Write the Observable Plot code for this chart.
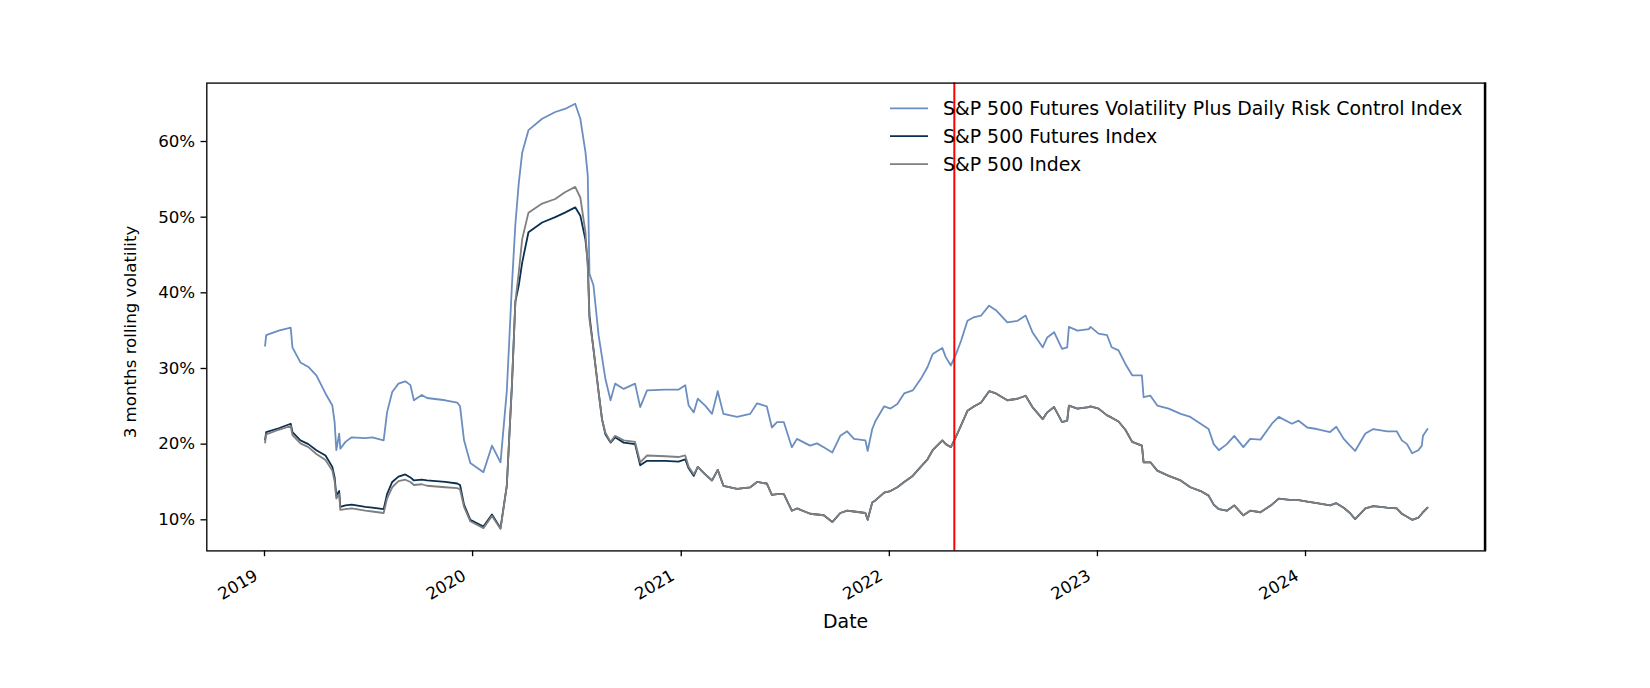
<!DOCTYPE html>
<html>
<head>
<meta charset="utf-8">
<script src="https://cdn.jsdelivr.net/npm/d3@7"></script>
<script src="https://cdn.jsdelivr.net/npm/@observablehq/plot@0.6"></script>
<style>
  html, body { margin: 0; padding: 0; background: #fff; }
  #chart svg { display: block; }
</style>
</head>
<body>
<div id="chart"></div>
<script>
// ---------------- data ----------------
const dates = [
"2019-01-02","2019-01-04","2019-01-26","2019-02-16","2019-02-19","2019-03-05","2019-03-19","2019-04-02","2019-04-18","2019-04-30",
"2019-05-04","2019-05-07","2019-05-12","2019-05-14","2019-05-23","2019-06-03","2019-06-27","2019-07-09","2019-07-29","2019-08-04",
"2019-08-13","2019-08-24","2019-09-05","2019-09-14","2019-09-20","2019-10-04","2019-10-13","2019-11-14","2019-12-05","2019-12-10",
"2019-12-17","2019-12-28","2020-01-20","2020-02-04","2020-02-19","2020-03-01","2020-03-10","2020-03-16","2020-03-22","2020-03-28",
"2020-04-08","2020-05-02","2020-05-25","2020-06-11","2020-06-29","2020-07-08","2020-07-17","2020-07-21","2020-07-24","2020-07-31",
"2020-08-09","2020-08-15","2020-08-21","2020-08-30","2020-09-07","2020-09-22","2020-10-12","2020-10-21","2020-11-02","2020-12-04",
"2020-12-27","2021-01-08","2021-01-14","2021-01-23","2021-01-30","2021-02-12","2021-02-24","2021-03-06","2021-03-16","2021-04-09",
"2021-05-02","2021-05-14","2021-05-31","2021-06-09","2021-06-18","2021-06-30","2021-07-14","2021-07-23","2021-08-15","2021-08-27",
"2021-09-08","2021-09-23","2021-10-07","2021-10-19","2021-10-31","2021-11-20","2021-11-24","2021-12-02","2021-12-08","2021-12-23",
"2022-01-03","2022-01-15","2022-01-27","2022-02-11","2022-02-25","2022-03-09","2022-03-18","2022-04-04","2022-04-10","2022-04-19",
"2022-04-28","2022-05-07","2022-05-18","2022-05-30","2022-06-11","2022-06-25","2022-07-07","2022-07-27","2022-08-14","2022-08-28",
"2022-09-09","2022-09-27","2022-10-05","2022-10-17","2022-10-31","2022-11-09","2022-11-12","2022-11-27","2022-12-17","2022-12-20",
"2023-01-03","2023-01-18","2023-01-26","2023-02-07","2023-02-19","2023-03-03","2023-03-20","2023-03-23","2023-04-04","2023-04-16",
"2023-05-06","2023-05-27","2023-06-13","2023-07-01","2023-07-15","2023-07-24","2023-08-02","2023-08-16","2023-08-29","2023-09-14",
"2023-09-26","2023-10-14","2023-11-03","2023-11-15","2023-12-08","2023-12-20","2024-01-04","2024-01-21","2024-02-13","2024-02-24",
"2024-03-08","2024-03-19","2024-03-28","2024-04-15","2024-04-29","2024-05-23","2024-06-09","2024-06-18","2024-06-27","2024-07-06",
"2024-07-17","2024-07-23","2024-07-25","2024-08-02"
];

// S&P 500 Futures Volatility Plus Daily Risk Control Index (%)
const riskControl = [
33.0,34.4,35.0,35.4,32.8,30.8,30.2,29.1,26.7,25.1,
22.9,19.2,21.4,19.4,20.3,20.9,20.8,20.9,20.5,24.2,
26.9,28.0,28.3,27.8,25.8,26.5,26.1,25.8,25.5,25.0,
20.5,17.5,16.3,19.8,17.6,27.0,41.0,49.0,54.5,58.5,
61.5,63.0,63.9,64.3,65.0,63.0,58.6,55.5,42.5,41.0,
34.4,31.5,28.6,25.8,28.0,27.3,28.0,24.9,27.1,27.2,
27.2,27.8,25.1,24.2,26.0,25.1,24.0,27.0,24.0,23.6,
24.0,25.4,25.0,22.2,22.9,22.9,19.6,20.7,19.8,20.1,
19.6,18.9,21.1,21.7,20.7,20.5,19.1,22.0,23.1,25.0,
24.7,25.3,26.7,27.1,28.6,30.2,31.9,32.7,31.5,30.4,
31.9,33.7,36.3,36.8,37.0,38.3,37.7,36.1,36.3,37.0,
34.8,32.8,34.1,34.8,32.6,32.8,35.5,35.0,35.2,35.5,
34.6,34.4,32.8,32.4,30.6,29.1,29.1,26.2,26.4,25.1,
24.7,24.0,23.6,22.7,22.0,20.0,19.2,20.0,21.1,19.6,
20.7,20.6,22.7,23.6,22.7,23.1,22.2,22.0,21.6,22.3,
20.7,19.8,19.1,21.4,22.0,21.7,21.7,20.5,20.0,18.8,
19.2,19.8,21.1,22.0
];

// S&P 500 Futures Index (%)
const futures = [
20.6,21.6,22.1,22.7,21.6,20.5,20.0,19.2,18.5,17.0,
15.6,13.2,13.8,11.7,11.9,12.0,11.7,11.6,11.4,13.4,
15.0,15.7,16.0,15.6,15.2,15.3,15.2,15.0,14.8,14.6,
12.0,10.0,9.1,10.7,8.9,14.5,27.8,38.8,41.0,44.0,
48.0,49.3,50.0,50.6,51.3,50.2,47.0,44.0,37.0,32.6,
26.9,23.3,21.3,20.2,20.9,20.2,20.0,17.2,17.8,17.8,
17.7,18.0,16.8,15.8,17.0,16.0,15.2,16.6,14.5,14.1,
14.3,15.0,14.8,13.3,13.4,13.4,11.2,11.5,10.8,10.7,
10.6,9.7,10.9,11.2,11.1,10.9,10.0,12.3,12.6,13.6,
13.8,14.3,15.0,15.8,17.0,18.0,19.2,20.5,20.0,19.6,
21.0,22.5,24.4,25.0,25.5,27.0,26.7,25.8,26.0,26.4,
24.9,23.3,24.2,24.9,22.9,23.1,25.1,24.7,24.9,25.0,
24.7,23.8,23.5,23.0,21.9,20.3,19.8,17.6,17.6,16.5,
15.8,15.2,14.3,13.8,13.2,12.0,11.4,11.2,11.9,10.6,
11.2,11.0,12.0,12.8,12.6,12.6,12.4,12.2,11.9,12.2,
11.6,10.9,10.1,11.5,11.8,11.6,11.5,10.8,10.4,10.0,
10.3,10.8,11.0,11.6
];

// S&P 500 Index (%)
const spx = [
20.2,21.3,21.9,22.4,21.2,20.1,19.6,18.7,17.9,16.5,
15.1,12.8,13.4,11.3,11.4,11.5,11.2,11.1,10.9,12.8,
14.3,15.1,15.3,15.0,14.6,14.7,14.5,14.3,14.2,14.0,
11.7,9.8,8.9,10.5,8.8,14.5,27.8,38.8,42.7,47.1,
50.6,51.8,52.4,53.3,54.0,52.6,48.0,43.5,36.5,32.6,
26.9,23.3,21.5,20.3,21.1,20.5,20.3,17.6,18.5,18.4,
18.3,18.5,17.0,16.0,17.0,16.0,15.2,16.6,14.5,14.1,
14.3,15.0,14.8,13.3,13.4,13.4,11.2,11.5,10.8,10.7,
10.6,9.7,10.9,11.2,11.1,10.9,10.0,12.3,12.6,13.6,
13.8,14.3,15.0,15.8,17.0,18.0,19.2,20.5,20.0,19.6,
21.0,22.5,24.4,25.0,25.5,27.0,26.7,25.8,26.0,26.4,
24.9,23.3,24.2,24.9,22.9,23.1,25.1,24.7,24.9,25.0,
24.7,23.8,23.5,23.0,21.9,20.3,19.8,17.6,17.6,16.5,
15.8,15.2,14.3,13.8,13.2,12.0,11.4,11.2,11.9,10.6,
11.2,11.0,12.0,12.8,12.6,12.6,12.4,12.2,11.9,12.2,
11.6,10.9,10.1,11.5,11.8,11.6,11.5,10.8,10.4,10.0,
10.3,10.8,11.0,11.6
];

const seriesNames = [
  "S&P 500 Futures Volatility Plus Daily Risk Control Index",
  "S&P 500 Futures Index",
  "S&P 500 Index"
];
const seriesColors = ["#6b8ec0", "#0a2f50", "#7f7f7f"];
const yTicks = [10, 20, 30, 40, 50, 60];
const xTicks = ["2019-01-01","2020-01-01","2021-01-01","2022-01-01","2023-01-01","2024-01-01"];
const eventDate = "2022-04-25";
const yLabel = "3 months rolling volatility";
const xLabel = "Date";

// ---------------- build table ----------------
const seriesValues = [riskControl, futures, spx];
const rows = [];
seriesValues.forEach((vals, i) => {
  vals.forEach((v, j) => rows.push({date: new Date(dates[j]), value: v, series: seriesNames[i]}));
});

// ---------------- layout ----------------
const W = 1650, H = 688;
const mL = 206.3, mR = 165, mT = 82.6, mB = 137.6;
const FONT = "'DejaVu Sans', 'Liberation Sans', sans-serif";
const FS = 16.67;
const LEG_FS = 18.9;
const plotBottom = H - mB;

const xTickLabels = (index, scales) => {
  const g = d3.create("svg:g")
    .attr("font-family", FONT).attr("font-size", FS).attr("fill", "black");
  xTicks.forEach(t => {
    const px = scales.x(new Date(t));
    g.append("text")
      .attr("transform", `translate(${px - 5},${plotBottom + 28.6}) rotate(-30)`)
      .attr("text-anchor", "end")
      .text(t.slice(0, 4));
  });
  return g.node();
};

const axisLabels = () => {
  const g = d3.create("svg:g").attr("font-family", FONT).attr("fill", "black");
  g.append("text")
    .attr("transform", `translate(136,332) rotate(-90)`)
    .attr("text-anchor", "middle").attr("font-size", FS)
    .text(yLabel);
  g.append("text")
    .attr("x", 845.6).attr("y", 627.5)
    .attr("text-anchor", "middle").attr("font-size", LEG_FS)
    .text(xLabel);
  return g.node();
};

const legend = () => {
  const g = d3.create("svg:g")
    .attr("font-family", FONT).attr("font-size", LEG_FS).attr("fill", "black")
    .attr("text-anchor", "start");
  seriesNames.forEach((name, i) => {
    const cy = 108.3 + i * 27.9;
    g.append("line")
      .attr("x1", 890).attr("x2", 928).attr("y1", cy).attr("y2", cy)
      .attr("stroke", seriesColors[i]).attr("stroke-width", 1.8);
    g.append("text").attr("x", 943).attr("y", cy).attr("dy", "0.36em")
      .attr("text-anchor", "start").text(name);
  });
  return g.node();
};

// thicker right spine as in the reference
const rightSpine = (index, scales, values, dims) => {
  const x = dims.width - dims.marginRight;
  const g = d3.create("svg:g");
  g.append("line").attr("x1", x).attr("x2", x)
    .attr("y1", dims.marginTop).attr("y2", dims.height - dims.marginBottom)
    .attr("stroke", "black").attr("stroke-width", 2.4);
  return g.node();
};

const chart = Plot.plot({
  width: W,
  height: H,
  marginLeft: mL,
  marginRight: mR,
  marginTop: mT,
  marginBottom: mB,
  style: {fontFamily: FONT, fontSize: FS + "px", background: "white", color: "black", overflow: "visible"},
  x: {type: "utc", domain: [new Date("2018-09-21T19:00:00Z"), new Date("2024-11-11T17:00:00Z")], axis: null},
  y: {domain: [5.89, 67.72], axis: null},
  color: {domain: seriesNames, range: seriesColors},
  marks: [
    Plot.lineY(rows, {x: "date", y: "value", z: "series", stroke: "series", strokeWidth: 1.8, curve: "linear"}),
    Plot.ruleX([new Date(eventDate)], {stroke: "red", strokeWidth: 2}),
    Plot.frame({stroke: "black", strokeWidth: 1.33}),
    rightSpine,
    Plot.axisY(yTicks, {tickFormat: d => d + "%", tickSize: 5.8, tickPadding: 5.8, strokeWidth: 1.33, fontSize: FS, label: null}),
    Plot.axisX(xTicks.map(d => new Date(d)), {tickSize: 5.8, tickFormat: () => "", strokeWidth: 1.33, label: null}),
    xTickLabels,
    axisLabels,
    legend
  ]
});

document.getElementById("chart").appendChild(chart);
</script>
</body>
</html>
